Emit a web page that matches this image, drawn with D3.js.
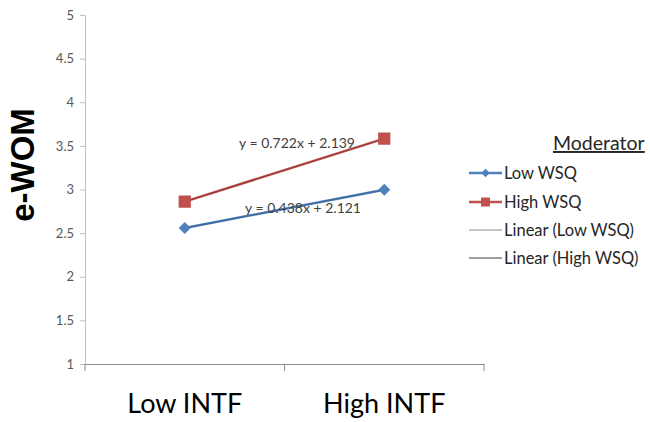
<!DOCTYPE html>
<html><head><meta charset="utf-8">
<script src="https://cdn.jsdelivr.net/npm/d3@7"></script>
<style>body{margin:0;background:#fff}svg{display:block}</style>
</head><body>
<script>
const categories = ["Low INTF", "High INTF"];
const lowWSQ = [2.559, 2.997];
const highWSQ = [2.861, 3.583];
const yTicks = [1, 1.5, 2, 2.5, 3, 3.5, 4, 4.5, 5];
const eqLow = "y = 0.438x + 2.121";
const eqHigh = "y = 0.722x + 2.139";
const legendItems = ["Low WSQ", "High WSQ", "Linear (Low WSQ)", "Linear (High WSQ)"];

const W = 650, H = 422;
const svg = d3.select("body").append("svg").attr("width", W).attr("height", H);
const font = "Lato, 'Open Sans', sans-serif";

const x = d3.scaleBand().domain(categories).range([85, 484]);
const y = d3.scaleLinear().domain([1, 5]).range([364, 15]);
const cx = c => x(c) + x.bandwidth() / 2;

// y axis
const ya = svg.append("g").attr("transform", "translate(85,0)")
  .call(d3.axisLeft(y).tickValues(yTicks).tickSize(5).tickPadding(6).tickFormat(d3.format("")));
ya.select(".domain").attr("stroke", "#bfbfbf");
ya.selectAll(".tick line").attr("stroke", "#bfbfbf");
ya.selectAll(".tick text").attr("fill", "#595959").style("font-family", font).style("font-size", "13px");

// x axis
const xa = svg.append("g").attr("transform", "translate(0,364)")
  .call(d3.axisBottom(x).tickSize(0).tickPadding(30));
xa.select(".domain").attr("stroke", "#8c8c8c");
xa.selectAll(".tick text").attr("fill", "#000").style("font-family", font).style("font-size", "27px");
svg.append("g").selectAll("line").data([x.range()[0], x.range()[0] + x.step(), x.range()[1]]).join("line")
  .attr("x1", d => d).attr("x2", d => d).attr("y1", 364).attr("y2", 371).attr("stroke", "#8c8c8c");

// y label
svg.append("text").attr("transform", "translate(34,165) rotate(-90)")
  .attr("text-anchor", "middle").style("font-family", "'Liberation Sans', Arial, sans-serif")
  .style("font-weight", "bold").style("font-size", "33px").text("e-WOM");

const line = d3.line().x((d, i) => cx(categories[i])).y(d => y(d));
const series = [
  {name: "Low WSQ", vals: lowWSQ, color: "#4F81BD", marker: "diamond"},
  {name: "High WSQ", vals: highWSQ, color: "#C0504D", marker: "square"}
];
series.forEach(s => {
  svg.append("path").datum(s.vals).attr("d", line).attr("fill", "none")
    .attr("stroke", s.color).attr("stroke-width", 2.5);
});
// trendlines
svg.append("path").datum(lowWSQ).attr("d", line).attr("fill", "none").attr("stroke", "#2f4f70").attr("stroke-width", 0.8).attr("opacity", 0.7);
svg.append("path").datum(highWSQ).attr("d", line).attr("fill", "none").attr("stroke", "#6b2a28").attr("stroke-width", 0.8).attr("opacity", 0.7);

const squareDiamond = {
  draw(ctx, size) {
    const r = Math.sqrt(size / 2);
    ctx.moveTo(0, -r); ctx.lineTo(r, 0); ctx.lineTo(0, r); ctx.lineTo(-r, 0); ctx.closePath();
  }
};
const sym = {
  diamond: d3.symbol().type(squareDiamond).size(72),
  square: d3.symbol().type(d3.symbolSquare).size(150)
};
series.forEach(s => {
  svg.append("g").selectAll("path").data(s.vals).join("path")
    .attr("d", sym[s.marker])
    .attr("transform", (d, i) => `translate(${cx(categories[i])},${y(d)})`)
    .attr("fill", s.color);
});

// equations
svg.append("text").attr("x", 297).attr("y", 148).attr("text-anchor", "middle")
  .style("font-family", font).style("font-size", "14px").attr("fill", "#404040").text(eqHigh);
svg.append("text").attr("x", 303).attr("y", 213).attr("text-anchor", "middle")
  .style("font-family", font).style("font-size", "14px").attr("fill", "#404040").text(eqLow);

// legend
svg.append("text").attr("x", 553).attr("y", 150).style("font-family", font).style("font-size", "19.5px")
  .attr("fill", "#262626").attr("text-decoration", "underline").text("Moderator");
const ly = [173, 202, 230, 258];
const lg = svg.append("g");
legendItems.forEach((t, i) => {
  const yy = ly[i];
  if (i < 2) {
    const s = series[i];
    lg.append("line").attr("x1", 469).attr("x2", 502).attr("y1", yy).attr("y2", yy).attr("stroke", s.color).attr("stroke-width", 2.5);
    lg.append("path").attr("d", s.marker === "diamond" ? d3.symbol().type(squareDiamond).size(36)() : d3.symbol().type(d3.symbolSquare).size(80)())
      .attr("transform", `translate(485.5,${yy})`).attr("fill", s.color);
  } else {
    lg.append("line").attr("x1", 469).attr("x2", 502).attr("y1", yy).attr("y2", yy)
      .attr("stroke", i === 2 ? "#8c8c8c" : "#404040").attr("stroke-width", 1);
  }
  lg.append("text").attr("x", 504).attr("y", yy + 5.5).style("font-family", font).style("font-size", "16.5px")
    .attr("fill", "#262626").text(t);
});
</script>
</body></html>
